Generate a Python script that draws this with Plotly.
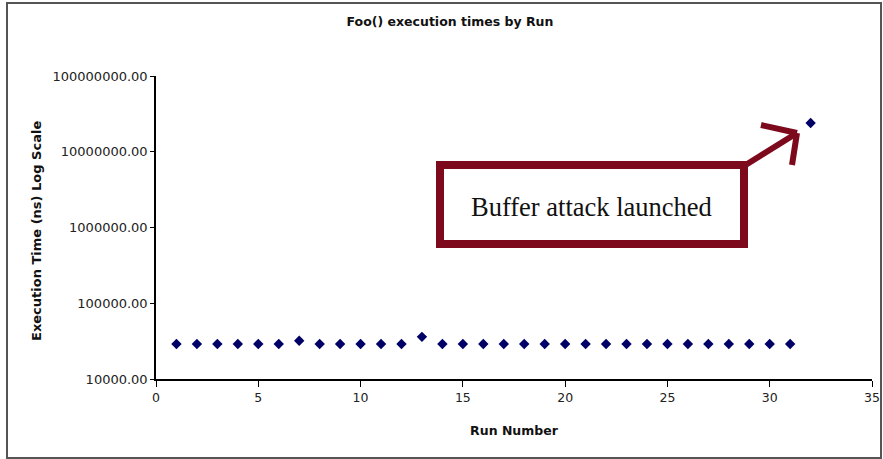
import plotly.graph_objects as go

runs = list(range(1, 33))
exec_times = [29000] * 6 + [32000] + [29000] * 5 + [36000] + [29000] * 18 + [24000000]
y_tickvals = [1e4, 1e5, 1e6, 1e7, 1e8]
y_ticktext = ["10000.00", "100000.00", "1000000.00", "10000000.00", "100000000.00"]
x_tickvals = [0, 5, 10, 15, 20, 25, 30, 35]

W, H = 883, 459
L, R, T, B = 156, 11, 76, 80
PW, PH = W - L - R, H - T - B

def px(x):
    return (x - L) / PW

def py(y):
    return (H - B - y) / PH

fig = go.Figure()
fig.add_trace(go.Scatter(
    x=runs, y=exec_times, mode="markers",
    marker=dict(symbol="diamond", size=8, color="#000066"),
    showlegend=False,
))

red = "#7d0a1c"
shapes = [
    dict(type="rect", xref="paper", yref="paper", x0=px(7), x1=px(881), y0=py(458), y1=py(3),
         line=dict(color="#555555", width=2), layer="below"),
    dict(type="rect", xref="paper", yref="paper", x0=px(440), x1=px(744), y0=py(244), y1=py(165),
         line=dict(color=red, width=8), fillcolor="white"),
    dict(type="line", xref="paper", yref="paper", x0=px(744), y0=py(166), x1=px(797), y1=py(133),
         line=dict(color=red, width=6)),
    dict(type="line", xref="paper", yref="paper", x0=px(797), y0=py(133), x1=px(761), y1=py(125),
         line=dict(color=red, width=6)),
    dict(type="line", xref="paper", yref="paper", x0=px(797), y0=py(133), x1=px(792), y1=py(165),
         line=dict(color=red, width=6)),
]

sans = "DejaVu Sans, Verdana, sans-serif"
fig.update_layout(
    width=W, height=H,
    margin=dict(l=L, r=R, t=T, b=B, autoexpand=False),
    paper_bgcolor="white", plot_bgcolor="white",
    font=dict(family=sans, size=11, color="#111111"),
    title=dict(text="<b>Foo() execution times by Run</b>", x=450 / W, xanchor="center",
               y=1 - 22 / H, yanchor="middle", font=dict(family=sans, size=12.5, color="#111111")),
    shapes=shapes,
    annotations=[
        dict(text="Buffer attack launched", xref="paper", yref="paper", x=px(591), y=py(207),
             showarrow=False, font=dict(family="Liberation Serif, Times New Roman, serif", size=26.5,
                                        color="#111111")),
        dict(text="<b>Execution Time (ns) Log Scale</b>", xref="paper", yref="paper",
             x=px(36), y=py(231), xanchor="center", yanchor="middle", textangle=-90, showarrow=False,
             font=dict(family=sans, size=13, color="#111111")),
    ],
)

fig.update_xaxes(
    range=[0, 35], tickvals=x_tickvals, showgrid=False, zeroline=False, automargin=False,
    showline=True, linecolor="black", linewidth=1.5, ticks="outside", ticklen=6, tickcolor="black",
    title=dict(text="<b>Run Number</b>", font=dict(family=sans, size=12.5), standoff=22),
    tickfont=dict(family=sans, size=12.5, color="#222222"),
)
fig.update_yaxes(
    type="log", range=[4, 8], tickvals=y_tickvals, ticktext=y_ticktext, showgrid=False, zeroline=False,
    automargin=False,
    showline=True, linecolor="black", linewidth=1.5, ticks="outside", ticklen=4, tickcolor="black",
    tickfont=dict(family=sans, size=13, color="#222222"),
)

fig.write_html("out.html", config={"displayModeBar": False},
               post_script="document.body.style.margin='0px';")
